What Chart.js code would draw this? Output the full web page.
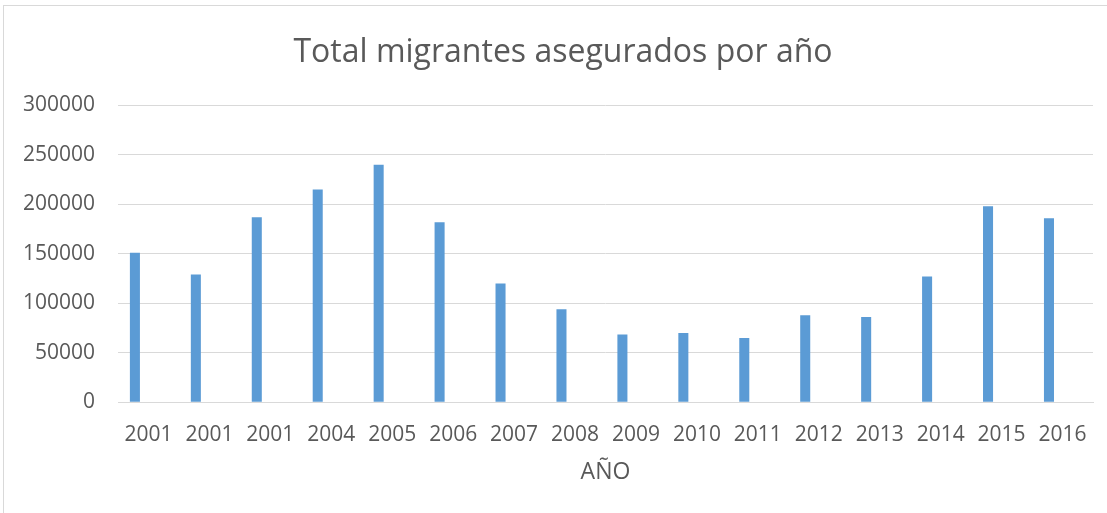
<!DOCTYPE html>
<html>
<head>
<meta charset="utf-8">
<script src="https://cdn.jsdelivr.net/npm/chart.js@4/dist/chart.umd.min.js"></script>
<style>
  html, body { margin: 0; padding: 0; background: #fff; overflow: hidden; }
  #frame { position: absolute; left: 3px; top: 5px; width: 1120px; height: 530px; border: 1px solid #d9d9d9; }
  #wrap { position: absolute; left: 0; top: 0; width: 1107px; height: 513px; }
</style>
</head>
<body>
<div id="frame"></div>
<div id="wrap"><canvas id="chartCanvas"></canvas></div>
<script>
const years = ["2001", "2001", "2001", "2004", "2005", "2006", "2007", "2008",
               "2009", "2010", "2011", "2012", "2013", "2014", "2015", "2016"];
const migrantes = [151000, 129000, 187000, 215000, 240000, 182000, 120000, 94000,
                   68500, 70000, 65000, 88000, 86000, 127000, 198000, 186000];
// second (empty) series of the original sheet, it only takes the right half of each slot
const serieVacia = [null, null, null, null, null, null, null, null,
                    null, null, null, null, null, null, null, null];

const grey = "#595959";
const fontFamily = "'Open Sans', sans-serif";

new Chart(document.getElementById("chartCanvas"), {
    type: "bar",
    data: {
        labels: years,
        datasets: [{
            label: "Total",
            data: migrantes,
            backgroundColor: "#5b9bd5",
            borderWidth: 0,
            barPercentage: 0.37,
            categoryPercentage: 0.89
        }, {
            label: "",
            data: serieVacia,
            backgroundColor: "#ed7d31",
            borderWidth: 0,
            barPercentage: 0.37,
            categoryPercentage: 0.89
        }]
    },
    options: {
        responsive: true,
        maintainAspectRatio: false,
        animation: false,
        layout: { padding: { left: 20, right: 1, top: 10, bottom: 27 } },
        plugins: {
            legend: { display: false },
            tooltip: { enabled: false },
            title: {
                display: true,
                text: "Total migrantes asegurados por año",
                color: grey,
                font: { family: fontFamily, size: 32, weight: "normal" },
                padding: { top: 24, bottom: 33 }
            }
        },
        scales: {
            x: {
                grid: { display: false, drawTicks: false },
                border: { color: "#d9d9d9", width: 1 },
                ticks: {
                    color: grey,
                    font: { family: fontFamily, size: 21 },
                    maxRotation: 0,
                    autoSkip: false,
                    padding: 20
                },
                title: {
                    display: true,
                    text: "AÑO",
                    color: grey,
                    font: { family: fontFamily, size: 23 },
                    padding: { top: -9, bottom: 0 }
                },
                afterFit: scale => {
                    scale.paddingLeft = 0;
                    scale.paddingRight = 14;
                }
            },
            y: {
                min: 0,
                max: 300000,
                grid: { color: "#d9d9d9", lineWidth: 1, drawTicks: false },
                border: { display: false },
                ticks: {
                    stepSize: 50000,
                    color: grey,
                    font: { family: fontFamily, size: 21 },
                    padding: 23,
                    callback: v => String(v)
                },
                afterFit: scale => {
                    scale.width = 98;
                }
            }
        }
    }
});
</script>
</body>
</html>
